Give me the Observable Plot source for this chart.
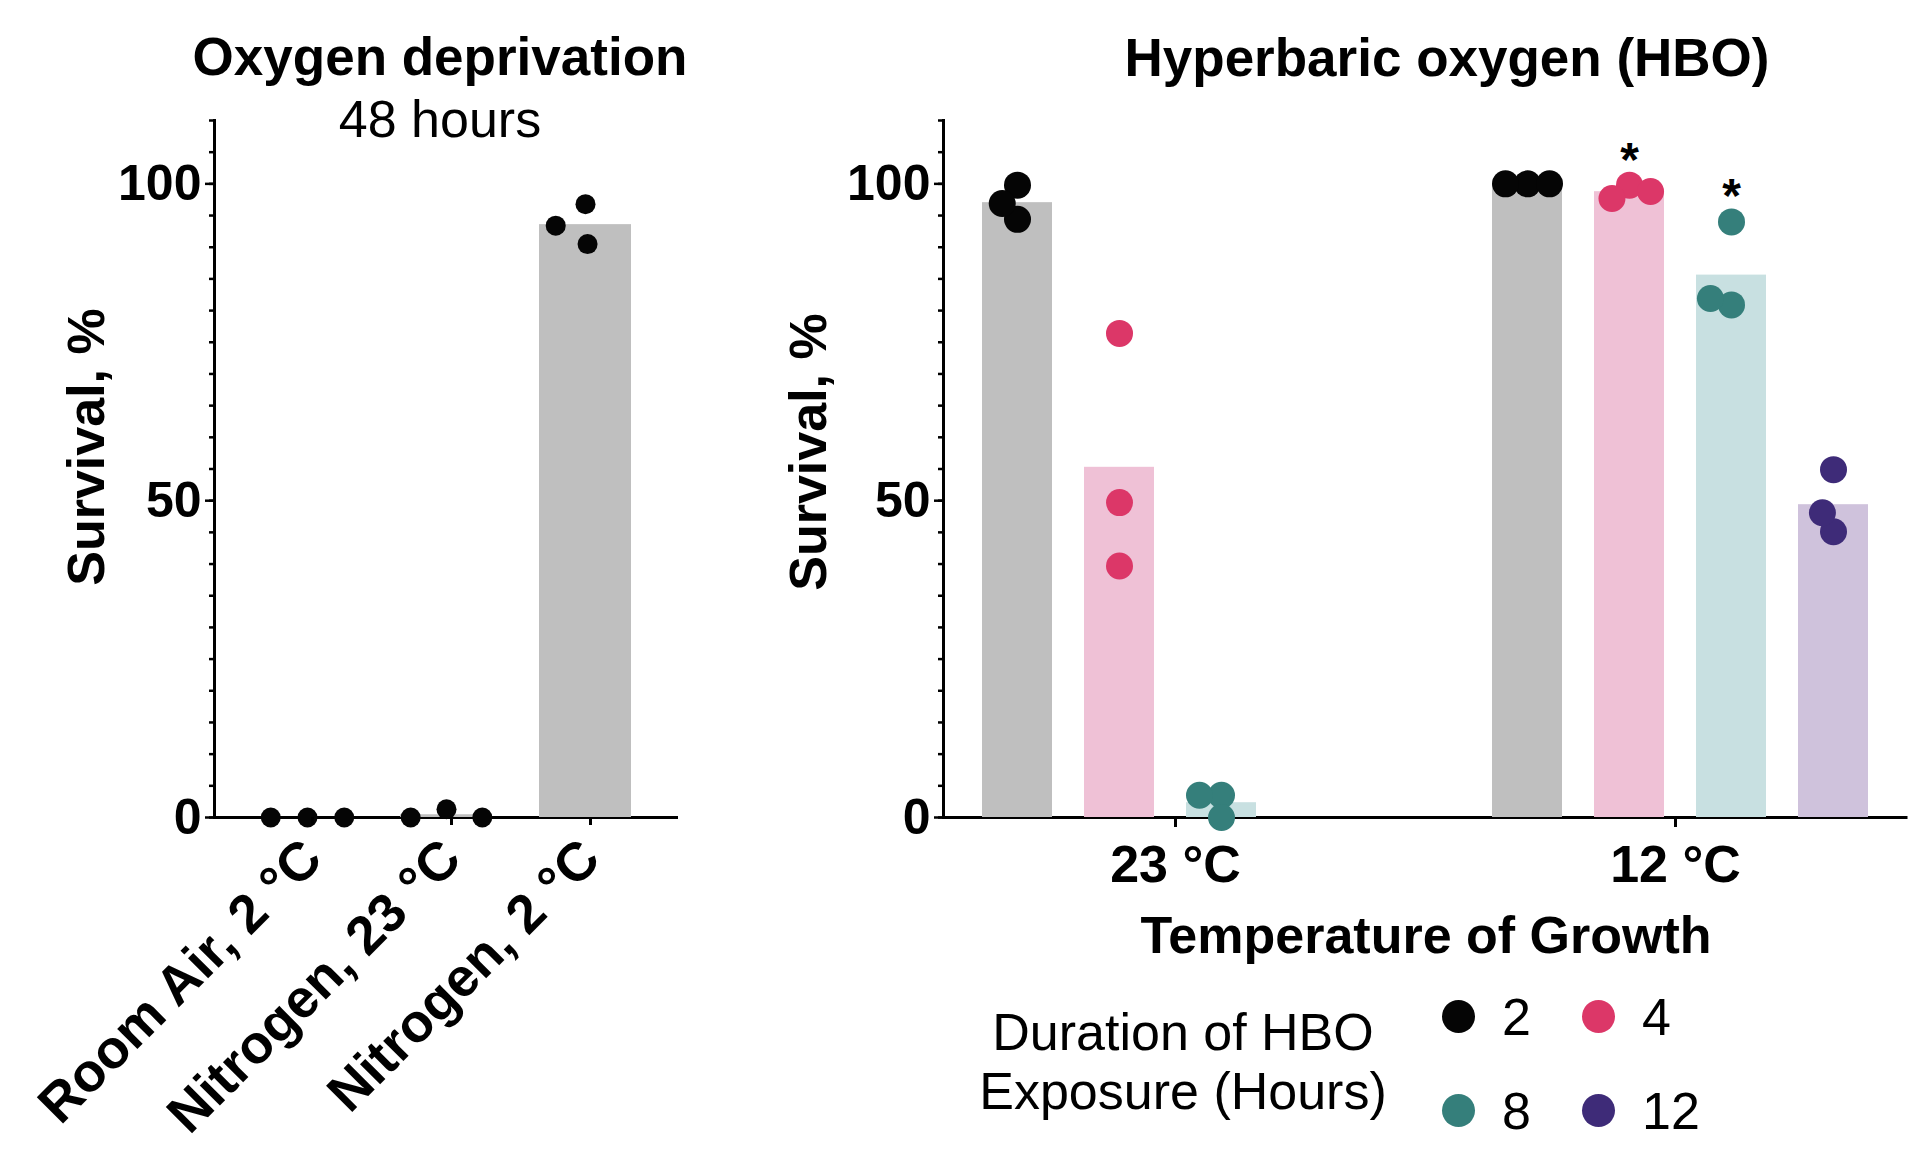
<!DOCTYPE html>
<html>
<head>
<meta charset="utf-8">
<script src="https://cdn.jsdelivr.net/npm/d3@7"></script>
<script src="https://cdn.jsdelivr.net/npm/@observablehq/plot@0.6"></script>
<style>
  html, body { margin: 0; padding: 0; background: #fff; }
  #fig { position: relative; width: 1921px; height: 1160px; overflow: hidden;
         font-family: "Liberation Sans", Arial, Helvetica, sans-serif; color: #000; }
  .layer { position: absolute; top: 0; }
  .layer svg { display: block; max-width: none; }
  .txt { position: absolute; white-space: nowrap; transform: translateX(-50%); }
  .ylab { position: absolute; white-space: nowrap; font-weight: bold; font-size: 52px; line-height: 52px;
          transform: translate(-50%, -50%) rotate(-90deg); }
  .bold { font-weight: bold; }
  .swatch { position: absolute; border-radius: 50%; }
  .key { position: absolute; white-space: nowrap; font-size: 52px; line-height: 52px; }
</style>
</head>
<body>
<div id="fig"></div>
<script>
// ---- Oxygen deprivation, 48 hours: survival (%) of three replicates per condition
const conditions = ["Room Air, 2 °C", "Nitrogen, 23 °C", "Nitrogen, 2 °C"];
const deprivationSurvival = [
  [0, 0, 0],
  [1.3, 0, 0],
  [96.8, 93.4, 90.5]
];

// ---- Hyperbaric oxygen: survival (%) by growth temperature and exposure duration (hours)
const temperatures = ["23 °C", "12 °C"];
const durations = [2, 4, 8, 12];
const survivalAt23 = [[99.8, 94.4, 96.9], [76.4, 49.7, 39.7], [3.5, 3.5, 0], []];
const survivalAt12 = [[100, 100, 100], [99.8, 97.7, 98.8], [94.0, 80.9, 81.9], [54.9, 45.1, 48.1]];
const significant = [["12 °C", 4], ["12 °C", 8]];

const yTicks = [0, 50, 100];
const yMinorTicks = d3.range(0, 111, 5);

// ---- palette (dots, and the lighter bar behind them)
const dotPalette = ["#050505", "#dc3768", "#357f7b", "#3e2b78"];
const barPalette = ["#bfbfbf", "#efc1d6", "#c8e0e1", "#cfc2dc"];

// ---- tidy tables
const deprivation = conditions.flatMap((c, i) =>
  deprivationSurvival[i].map(v => ({condition: c, survival: v})));
const survivalByTemperature = [survivalAt23, survivalAt12];
const slotOf = (t, d) => `${t} · ${d} h`;
const hbo = temperatures.flatMap((t, i) => durations.flatMap((d, j) =>
  survivalByTemperature[i][j].map(v => ({temperature: t, duration: d, slot: slotOf(t, d), survival: v}))));
const slots = temperatures.flatMap((t, i) => [...(i ? ["gap"] : []), ...durations.map(d => slotOf(t, d))]);
const colorOf = (palette) => d => palette[durations.indexOf(d.duration)];

// ---- shared geometry
const FONT = '"Liberation Sans", Arial, Helvetica, sans-serif';
const H = 1160, M_TOP = 120, M_BOTTOM = 343;
const yDomain = [0, 110];
const baseStyle = {background: "transparent", fontFamily: FONT, fontSize: "50px", fontWeight: "bold", color: "#000", overflow: "visible"};

// y axis (major + minor ticks), axis lines and optional extra axis marks
function axesPlot({width, marginLeft, marginRight, x, extra = []}) {
  return Plot.plot({
    width, height: H, marginLeft, marginRight, marginTop: M_TOP, marginBottom: M_BOTTOM,
    style: baseStyle,
    x,
    y: {domain: yDomain},
    marks: [
      Plot.axisY({ticks: yMinorTicks, tickSize: 5, tickFormat: () => "", strokeWidth: 2.5, label: null}),
      Plot.axisY({ticks: yTicks, tickSize: 9, tickPadding: 4, strokeWidth: 2.5, fontSize: 50, label: null}),
      Plot.frame({anchor: "left", strokeWidth: 3}),
      Plot.ruleY([0], {strokeWidth: 3}),
      ...extra
    ]
  });
}

const fig = document.getElementById("fig");
function place(node, left) {
  const div = document.createElement("div");
  div.className = "layer";
  div.style.left = left + "px";
  div.appendChild(node);
  fig.appendChild(div);
}

// ---- left panel
place(axesPlot({width: 700, marginLeft: 214, marginRight: 22}), 0);
place(Plot.plot({
  width: 700, height: H, marginLeft: 214, marginRight: 22, marginTop: M_TOP, marginBottom: M_BOTTOM,
  style: baseStyle,
  fx: {domain: conditions, paddingInner: 0.336, paddingOuter: 0.336},
  y: {domain: yDomain, axis: null},
  marks: [
    Plot.barY(deprivation, Plot.groupZ({y: "mean"}, {fx: "condition", y: "survival", fill: "#bfbfbf"})),
    Plot.dot(deprivation, Plot.dodgeX({anchor: "middle", r: 10, padding: 16.75},
      {fx: "condition", y: "survival", r: 10, fill: "#050505"})),
    Plot.axisFx({anchor: "bottom", tickRotate: -45, tickSize: 8, tickPadding: 24, dx: 5,
      strokeWidth: 3, fontSize: 54, label: null})
  ]
}), 0);

// ---- right panel
place(axesPlot({
  width: 1221, marginLeft: 243, marginRight: 13.5,
  x: {type: "point", domain: temperatures, padding: 0.4645},
  extra: [Plot.axisX({tickSize: 10, tickPadding: 18, strokeWidth: 3, fontSize: 52, label: null})]
}), 700);
place(Plot.plot({
  width: 1221, height: H, marginLeft: 243, marginRight: 13.5, marginTop: M_TOP, marginBottom: M_BOTTOM,
  style: baseStyle,
  fx: {domain: slots, paddingInner: 0.317, paddingOuter: 0.361, axis: null},
  y: {domain: yDomain, axis: null},
  color: {type: "identity"},
  marks: [
    Plot.barY(hbo, Plot.groupZ({y: "mean"}, {fx: "slot", y: "survival", fill: colorOf(barPalette)})),
    Plot.dot(hbo, Plot.dodgeX({anchor: "middle", r: 10.5, padding: 1},
      {fx: "slot", y: "survival", r: 13.5, fill: colorOf(dotPalette)})),
    Plot.text(significant, {
      fx: ([t, d]) => slotOf(t, d),
      y: ([t, d]) => d3.max(hbo.filter(p => p.temperature === t && p.duration === d), p => p.survival),
      text: () => "*", dy: -25, fontSize: 48, fontWeight: "bold", fill: "#000"
    })
  ]
}), 700);

// ---- titles and captions
function label(text, cx, top, size, bold) {
  const el = document.createElement("div");
  el.className = "txt" + (bold ? " bold" : "");
  el.style.left = cx + "px";
  el.style.top = top + "px";
  el.style.fontSize = size + "px";
  el.style.lineHeight = size + "px";
  el.textContent = text;
  fig.appendChild(el);
}
function yLabel(text, cx, cy) {
  const el = document.createElement("div");
  el.className = "ylab";
  el.style.left = cx + "px";
  el.style.top = cy + "px";
  el.textContent = text;
  fig.appendChild(el);
}
label("Oxygen deprivation", 440, 30, 53, true);
label("48 hours", 440, 93, 52, false);
label("Hyperbaric oxygen (HBO)", 1447, 31, 53, true);
label("Temperature of Growth", 1426, 909, 52, true);
yLabel("Survival, %", 86, 447);
yLabel("Survival, %", 808, 452);

// ---- legend: duration of HBO exposure
label("Duration of HBO", 1183, 1006, 52, false);
label("Exposure (Hours)", 1183, 1065, 52, false);
const keyCols = [1458, 1598], keyRows = [1016, 1110], keyR = 16.5;
durations.forEach((d, i) => {
  const cx = keyCols[i % 2], cy = keyRows[Math.floor(i / 2)];
  const dot = document.createElement("div");
  dot.className = "swatch";
  Object.assign(dot.style, {left: (cx - keyR) + "px", top: (cy - keyR) + "px",
    width: 2 * keyR + "px", height: 2 * keyR + "px", background: dotPalette[i]});
  fig.appendChild(dot);
  const txt = document.createElement("div");
  txt.className = "key";
  txt.style.left = (cx + 44) + "px";
  txt.style.top = (cy + 19 - 44) + "px";
  txt.textContent = d;
  fig.appendChild(txt);
});
</script>
</body>
</html>
